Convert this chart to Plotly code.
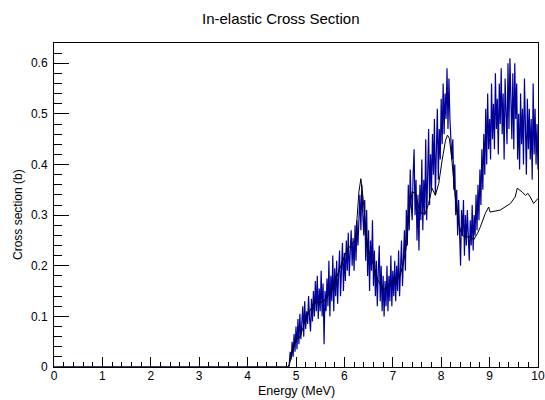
import numpy as np
import plotly.graph_objects as go

# Evaluated (smooth) cross section - black line
black_e = [0.0, 4.85, 4.99, 5.09, 5.19, 5.37, 5.57, 5.74, 5.92, 6.05, 6.23, 6.30, 6.34,
           6.39, 6.47, 6.57, 6.66, 6.69, 6.81, 6.95, 7.05, 7.15, 7.22, 7.29, 7.33, 7.40,
           7.47, 7.53, 7.60, 7.67, 7.74, 7.81, 7.88, 7.95, 8.02, 8.09, 8.13, 8.17, 8.22,
           8.29, 8.36, 8.43, 8.50, 8.60, 8.67, 8.75, 8.81, 8.91, 8.98, 9.01, 9.22, 9.43,
           9.53, 9.57, 9.67, 9.74, 9.79, 9.84, 9.91, 9.98, 10.0]
black_xs = [0.0, 0.0, 0.053, 0.060, 0.093, 0.126, 0.129, 0.152, 0.198, 0.231, 0.251, 0.346, 0.372,
            0.330, 0.237, 0.211, 0.182, 0.172, 0.152, 0.165, 0.172, 0.180, 0.205, 0.244, 0.300, 0.346,
            0.343, 0.316, 0.303, 0.303, 0.323, 0.353, 0.339, 0.363, 0.409, 0.448, 0.458, 0.451, 0.409,
            0.336, 0.284, 0.260, 0.257, 0.257, 0.251, 0.264, 0.277, 0.303, 0.316, 0.306, 0.310, 0.323,
            0.336, 0.353, 0.346, 0.339, 0.343, 0.336, 0.323, 0.330, 0.333]

# Measured / sampled cross section - blue jagged line
blue_start, blue_stop, blue_n = 4.84, 10.0, 259
blue_xs = [
    0, 0.005, 0.03, 0.015, 0.05, 0.02, 0.065, 0.03, 0.08, 0.035,
    0.095, 0.045, 0.105, 0.055, 0.09, 0.12, 0.06, 0.13, 0.075, 0.11,
    0.085, 0.14, 0.095, 0.07, 0.135, 0.09, 0.15, 0.1, 0.17, 0.11,
    0.18, 0.095, 0.155, 0.11, 0.19, 0.1, 0.165, 0.045, 0.15, 0.11,
    0.175, 0.12, 0.21, 0.1, 0.18, 0.13, 0.22, 0.11, 0.195, 0.14,
    0.21, 0.125, 0.185, 0.23, 0.14, 0.2, 0.245, 0.15, 0.225, 0.17,
    0.25, 0.19, 0.265, 0.18, 0.24, 0.27, 0.2, 0.255, 0.19, 0.28,
    0.21, 0.29, 0.24, 0.31, 0.34, 0.27, 0.36, 0.3, 0.26, 0.33,
    0.21, 0.31, 0.18, 0.27, 0.15, 0.25, 0.19, 0.29, 0.16, 0.23,
    0.14, 0.21, 0.12, 0.19, 0.24, 0.13, 0.2, 0.11, 0.18, 0.1,
    0.17, 0.12, 0.2, 0.11, 0.18, 0.13, 0.22, 0.12, 0.19, 0.14,
    0.21, 0.13, 0.2, 0.15, 0.23, 0.14, 0.2, 0.25, 0.16, 0.22,
    0.27, 0.19, 0.31, 0.24, 0.36, 0.27, 0.39, 0.32, 0.29, 0.38,
    0.43, 0.3, 0.37, 0.25, 0.34, 0.23, 0.36, 0.29, 0.41, 0.27,
    0.37, 0.3, 0.45, 0.29, 0.39, 0.47, 0.32, 0.42, 0.35, 0.46,
    0.38, 0.49, 0.34, 0.44, 0.51, 0.37, 0.47, 0.41, 0.53, 0.44,
    0.56, 0.46, 0.54, 0.49, 0.59, 0.47, 0.57, 0.49, 0.45, 0.41,
    0.45, 0.35, 0.4, 0.3, 0.35, 0.26, 0.33, 0.23, 0.2, 0.31,
    0.26, 0.33, 0.22, 0.3, 0.24, 0.31, 0.25, 0.21, 0.29, 0.24,
    0.32, 0.23, 0.3, 0.26, 0.34, 0.27, 0.36, 0.29, 0.39, 0.32,
    0.43, 0.35, 0.46, 0.38, 0.51, 0.4, 0.54, 0.43, 0.49, 0.41,
    0.56, 0.45, 0.52, 0.43, 0.58, 0.47, 0.53, 0.42, 0.56, 0.48,
    0.59, 0.46, 0.54, 0.41, 0.57, 0.49, 0.44, 0.6, 0.47, 0.61,
    0.51, 0.45, 0.58, 0.43, 0.6, 0.49, 0.56, 0.41, 0.5, 0.39,
    0.54, 0.44, 0.51, 0.4, 0.57, 0.45, 0.38, 0.53, 0.43, 0.51,
    0.41, 0.49, 0.37, 0.56, 0.42, 0.51, 0.4, 0.48, 0.39,
]
blue_e = [0.0] + list(np.round(np.linspace(blue_start, blue_stop, blue_n), 3))
blue_y = [0.0] + blue_xs

x_ticks = list(range(0, 11))
y_ticks = [0, 0.1, 0.2, 0.3, 0.4, 0.5, 0.6]

FONT = "Liberation Sans, Arial, Helvetica, sans-serif"

fig = go.Figure()
fig.add_trace(go.Scatter(x=blue_e, y=blue_y, mode="lines",
                         line=dict(color="#000099", width=1.2), showlegend=False))
fig.add_trace(go.Scatter(x=black_e, y=black_xs, mode="lines",
                         line=dict(color="black", width=1), showlegend=False))

fig.update_layout(
    width=545, height=400,
    margin=dict(l=54, r=7, t=43, b=33, autoexpand=False),
    paper_bgcolor="white", plot_bgcolor="white",
    font=dict(family=FONT, size=12, color="black"),
    showlegend=False,
    xaxis=dict(range=[0, 10], tickvals=x_ticks, ticks="inside", ticklen=10,
               tickcolor="black", tickwidth=1, showgrid=False, zeroline=False,
               showline=True, linecolor="black", linewidth=1, mirror=True,
               tickfont=dict(size=12), automargin=False, ticklabelstandoff=-2,
               minor=dict(dtick=0.2, ticks="inside", ticklen=5, tickcolor="black", showgrid=False)),
    yaxis=dict(range=[0, 0.64], tickvals=y_ticks, ticks="inside", ticklen=15,
               tickcolor="black", tickwidth=1, showgrid=False, zeroline=False,
               showline=True, linecolor="black", linewidth=1, mirror=True,
               tickfont=dict(size=12), ticklabelstandoff=3, automargin=False,
               minor=dict(dtick=0.02, ticks="inside", ticklen=7.5, tickcolor="black", showgrid=False)),
    annotations=[
        dict(text="In-elastic Cross Section", xref="paper", yref="paper",
             x=0.47, y=1.0, yshift=25, showarrow=False, font=dict(size=15),
             xanchor="center", yanchor="middle"),
        dict(text="Energy (MeV)", xref="paper", yref="paper", x=0.5, y=0,
             yshift=-24, showarrow=False, font=dict(size=12.5),
             xanchor="center", yanchor="middle"),
        dict(text="Cross section (b)", xref="paper", yref="paper", x=0, y=0.5,
             xshift=-36, yshift=-10, showarrow=False, font=dict(size=12), textangle=-90,
             xanchor="center", yanchor="middle"),
    ],
)

fig.write_html("out.html")
